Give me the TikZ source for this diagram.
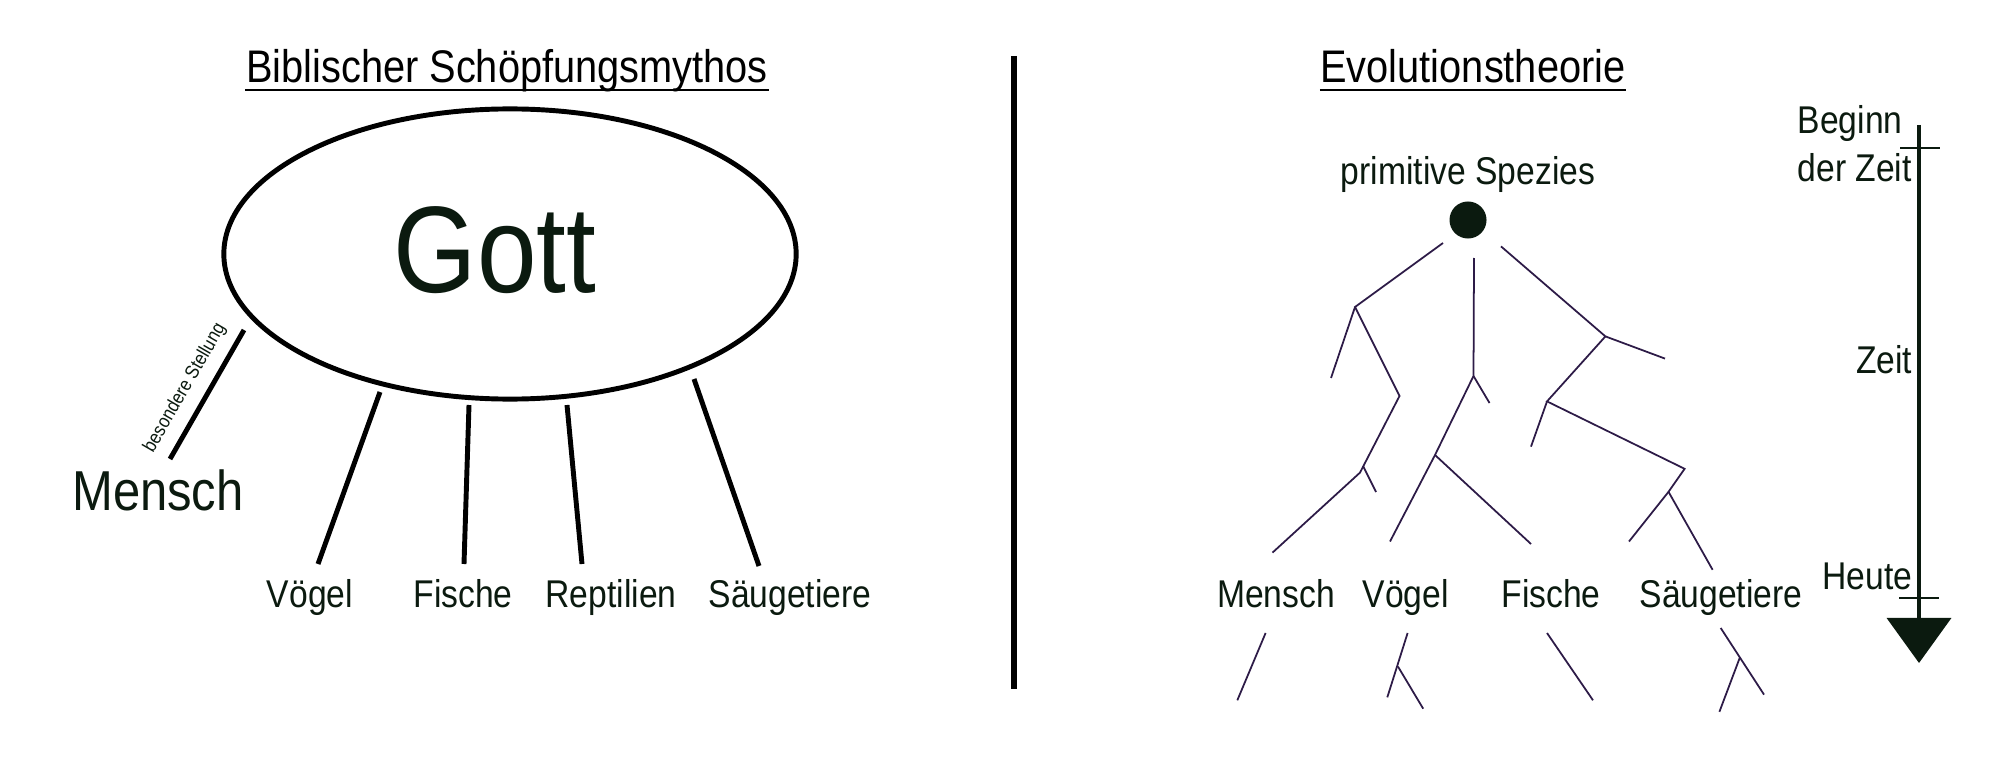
\documentclass[tikz,border=0pt]{standalone}
\usepackage{fontspec}
\setmainfont{Liberation Sans}[FakeStretch=0.87]
\usetikzlibrary{shapes.geometric,arrows.meta,calc}
\definecolor{txt}{HTML}{0B1A0F}
\definecolor{branch}{HTML}{2D1B47}
\tikzset{
  lbl/.style={inner sep=0pt, anchor=base, text=txt, font=\fontsize{11}{13}\selectfont},
  ttl/.style={inner sep=0pt, anchor=base, text=black, font=\fontsize{13}{15.5}\selectfont},
  thick link/.style={line width=1.4pt, black},
  thin link/.style={line width=0.5pt, branch},
  uline/.style={line width=0.7pt, black}
}
\begin{document}
\begin{tikzpicture}[x=0.01cm, y=-0.01cm]
\useasboundingbox[fill=white] (0,0) rectangle (2000,773);

% ---------- left: Biblischer Schoepfungsmythos ----------
\node[ttl] (t1) at (507,83) {Biblischer Schöpfungsmythos};
\draw[uline] ($(t1.base west)+(0,7)$) -- ($(t1.base east)+(0,7)$);

\node[ellipse, draw=black, line width=1.4pt, minimum width=5.72cm, minimum height=2.9cm, inner sep=0pt] (god) at (510,254) {};
\node[inner sep=0pt, anchor=base, text=txt, font=\fontsize{35}{42}\selectfont] (gott) at (495,292) {Gott};

\node[lbl, font=\fontsize{16}{19}\selectfont] (mensch1) at (158,510) {Mensch};
\node[lbl] (voegel1) at (310,607) {Vögel};
\node[lbl] (fische1) at (463,607) {Fische};
\node[lbl] (rept1) at (611,607) {Reptilien};
\node[lbl] (saeug1) at (790,607) {Säugetiere};

\coordinate (m1a) at (244,330); \coordinate (m1b) at (170,459);
\coordinate (v1a) at (380,392); \coordinate (v1b) at (318,564);
\coordinate (f1a) at (469,405); \coordinate (f1b) at (464,564);
\coordinate (r1a) at (567,405); \coordinate (r1b) at (582,564);
\coordinate (s1a) at (694,379); \coordinate (s1b) at (759,566);
\draw[thick link] (m1a) -- (m1b);
\draw[thick link] (v1a) -- (v1b);
\draw[thick link] (f1a) -- (f1b);
\draw[thick link] (r1a) -- (r1b);
\draw[thick link] (s1a) -- (s1b);
\node[inner sep=0pt, text=txt, rotate=60, font=\fontsize{5.5}{6.5}\selectfont] (stell) at (185,388) {besondere Stellung};

% ---------- divider ----------
\coordinate (d1) at (1014,56); \coordinate (d2) at (1014,689);
\draw[line width=1.75pt, black] (d1) -- (d2);

% ---------- right: Evolutionstheorie ----------
\node[ttl] (t2) at (1473,83) {Evolutionstheorie};
\draw[uline] ($(t2.base west)+(0,7)$) -- ($(t2.base east)+(0,7)$);

\node[lbl] (prim) at (1468,185) {primitive Spezies};
\node[circle, fill=txt, minimum size=0.37cm, inner sep=0pt] (dot) at (1468,220) {};

% tree coordinates
\coordinate (L0) at (1443,243); \coordinate (L1) at (1355,307);
\coordinate (L1t) at (1331,378); \coordinate (L2) at (1399.5,396);
\coordinate (L3) at (1360,472.6); \coordinate (Lt) at (1363,466);
\coordinate (Lte) at (1376,492); \coordinate (L4) at (1272.5,552.6);
\coordinate (M0) at (1474,258); \coordinate (M1) at (1473.5,376);
\coordinate (M1t) at (1489.5,403); \coordinate (M2) at (1435,455);
\coordinate (M3) at (1390,541.5); \coordinate (M4) at (1531,544);
\coordinate (R0) at (1501,246.4); \coordinate (R1) at (1605.4,336.4);
\coordinate (R1t) at (1665,358.6); \coordinate (R2) at (1547,401.4);
\coordinate (R2t) at (1531,446.6); \coordinate (R3) at (1684.6,468.8);
\coordinate (R4) at (1668.5,491.8); \coordinate (R5) at (1629,541.5);
\coordinate (R6) at (1712.6,569.8);
\draw[thin link] (L0) -- (L1) -- (L2) -- (L3) -- (L4);
\draw[thin link] (L1) -- (L1t);
\draw[thin link] (Lt) -- (Lte);
\draw[thin link] (M0) -- (M1) -- (M2) -- (M3);
\draw[thin link] (M1) -- (M1t);
\draw[thin link] (M2) -- (M4);
\draw[thin link] (R0) -- (R1) -- (R2) -- (R3) -- (R4) -- (R5);
\draw[thin link] (R1) -- (R1t);
\draw[thin link] (R2) -- (R2t);
\draw[thin link] (R4) -- (R6);

\node[lbl] (mensch2) at (1276,607) {Mensch};
\node[lbl] (voegel2) at (1405.6,607) {Vögel};
\node[lbl] (fische2) at (1551,607) {Fische};
\node[lbl] (saeug2) at (1721,607) {Säugetiere};

% below labels
\coordinate (bm0) at (1265.6,633); \coordinate (bm1) at (1237.3,700.3);
\coordinate (bv0) at (1407.6,633); \coordinate (bv1) at (1387.3,697.3);
\coordinate (bvt) at (1398,666.6); \coordinate (bvte) at (1423.2,708.7);
\coordinate (bf0) at (1547,633); \coordinate (bf1) at (1593,700.3);
\coordinate (bs0) at (1720.7,628); \coordinate (bs1) at (1764,694.6);
\coordinate (bst) at (1739.8,657.6); \coordinate (bste) at (1719.4,711.8);
\draw[thin link] (bm0) -- (bm1);
\draw[thin link] (bv0) -- (bv1);
\draw[thin link] (bvt) -- (bvte);
\draw[thin link] (bf0) -- (bf1);
\draw[thin link] (bs0) -- (bs1);
\draw[thin link] (bst) -- (bste);

% ---------- time axis ----------
\coordinate (tstart) at (1919,125); \coordinate (tend) at (1919,663);
\draw[line width=1pt, txt, -{Triangle[width=0.64cm,length=0.45cm]}] (tstart) -- (tend);
\coordinate (tk1a) at (1900,148); \coordinate (tk1b) at (1940,148);
\coordinate (tk2a) at (1899,598); \coordinate (tk2b) at (1939,598);
\draw[line width=0.75pt, txt] (tk1a) -- (tk1b);
\draw[line width=0.75pt, txt] (tk2a) -- (tk2b);
\node[lbl, anchor=base west] (beginn) at (1797,134) {Beginn};
\node[lbl, anchor=base west] (derzeit) at (1797,182) {der Zeit};
\node[lbl, anchor=base east] (zeit) at (1913,373) {Zeit};
\node[lbl, anchor=base east] (heute) at (1913,589) {Heute};
\end{tikzpicture}
\end{document}
